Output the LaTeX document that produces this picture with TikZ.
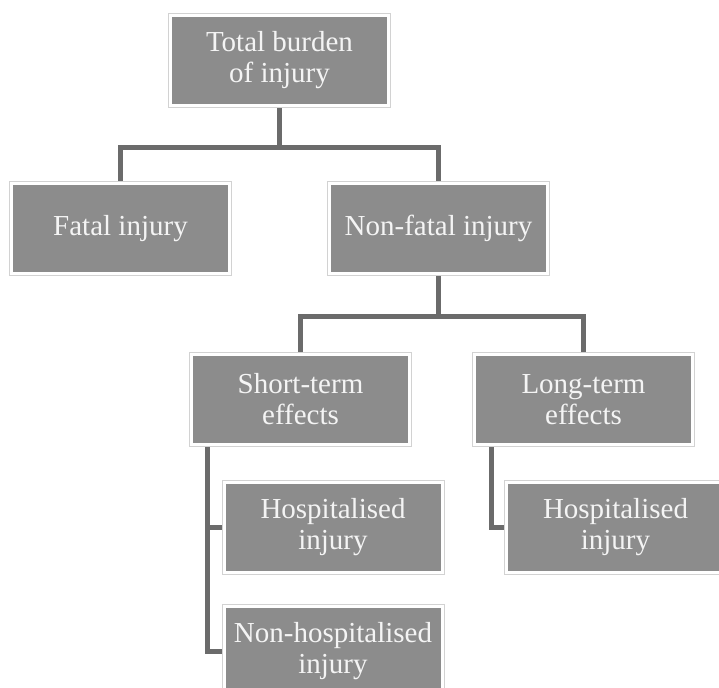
\documentclass[tikz,border=0pt]{standalone}
\usepackage{fontspec}
\setmainfont{Liberation Serif}
\usepackage{tikz}
\usetikzlibrary{backgrounds}
\definecolor{boxgray}{HTML}{8C8C8C}
\definecolor{ringgray}{HTML}{D2D2D2}
\definecolor{linkgray}{HTML}{6B6B6B}
\definecolor{txtwhite}{HTML}{F4F4F4}
\tikzset{
  injbox/.style={preaction={draw=ringgray, line width=5pt}, draw=white, line width=3pt,
    fill=boxgray, text=txtwhite, align=center, minimum width=218pt, minimum height=90pt,
    inner sep=0pt, font=\fontsize{29}{31}\selectfont},
  link/.style={draw=linkgray, line width=5pt}
}
\begin{document}
\begin{tikzpicture}[x=1pt, y=-1pt]
\useasboundingbox (0,0) rectangle (719,687);
% Nodes of the tree
\node[injbox] (total) at (279.5,60.5) {Total burden\\of injury};
\node[injbox] (fatal) at (120.5,228.5) {Fatal injury};
\node[injbox] (nonfatal) at (438.5,228.5) {Non-fatal injury};
\node[injbox] (short) at (300.5,399.5) {Short-term\\effects};
\node[injbox] (long) at (583.5,399.5) {Long-term\\effects};
\node[injbox] (hospA) at (333,527) {Hospitalised\\injury};
\node[injbox] (nonhosp) at (333,651) {Non-hospitalised\\injury};
\node[injbox] (hospB) at (615.5,527) {Hospitalised\\injury};
% Bus lines and spines
\coordinate (busA) at (0,148);
\coordinate (busB) at (0,316);
\coordinate (spineA) at (207.5,0);
\coordinate (spineB) at (491,0);
\begin{scope}[on background layer]
\draw[link] (total.south) -- (total.south |- busA) -| (fatal.north);
\draw[link] (total.south |- busA) -| (nonfatal.north);
\draw[link] (nonfatal.south) -- (nonfatal.south |- busB) -| (short.north);
\draw[link] (nonfatal.south |- busB) -| (long.north);
\draw[link] (short.south -| spineA) |- (hospA.west);
\draw[link] (short.south -| spineA) |- (nonhosp.west);
\draw[link] (long.south -| spineB) |- (hospB.west);
\end{scope}
\end{tikzpicture}
\end{document}
